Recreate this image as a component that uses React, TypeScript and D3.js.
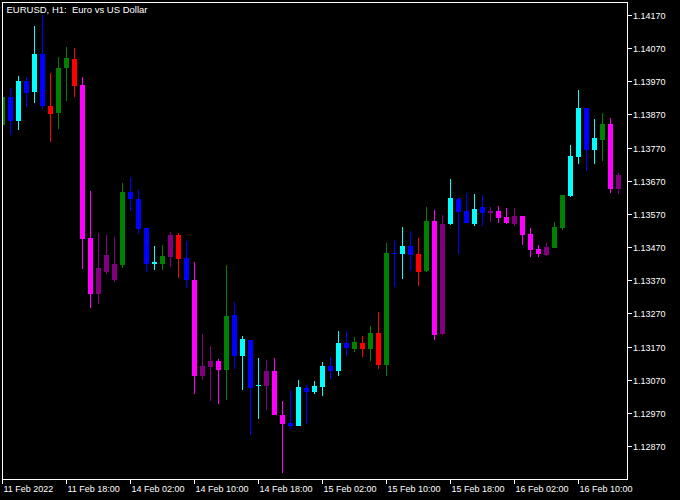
import React from "react";
import * as d3 from "d3";

const title = "EURUSD, H1:  Euro vs US Dollar";

const timeTickIndex = [0, 8, 16, 24, 32, 40, 48, 56, 64, 72];
const timeTickLabels = [
  "11 Feb 2022", "11 Feb 18:00", "14 Feb 02:00", "14 Feb 10:00", "14 Feb 18:00",
  "15 Feb 02:00", "15 Feb 10:00", "15 Feb 18:00", "16 Feb 02:00", "16 Feb 10:00",
];

const priceTicks = [
  1.1287, 1.1297, 1.1307, 1.1317, 1.1327, 1.1337, 1.1347,
  1.1357, 1.1367, 1.1377, 1.1387, 1.1397, 1.1407, 1.1417,
];

const opens = [
  1.1384, 1.13923, 1.13853, 1.13972, 1.1394, 1.14054, 1.13897, 1.13877, 1.14013, 1.14039,
  1.1396, 1.13499, 1.13331, 1.13396, 1.13372, 1.13417, 1.13638, 1.13616, 1.13529, 1.1342,
  1.1342, 1.13441, 1.13508, 1.13438, 1.13372, 1.13082, 1.1311, 1.13128, 1.13101, 1.13266,
  1.13144, 1.13191, 1.13054, 1.13053, 1.13097, 1.12965, 1.12941, 1.12932, 1.13046, 1.13034,
  1.13049, 1.13113, 1.13097, 1.13182, 1.13164, 1.13182, 1.13164, 1.13212, 1.13116, 1.13454,
  1.13451, 1.13475, 1.1345, 1.134, 1.1355, 1.1321, 1.1354, 1.13616, 1.1358, 1.13541,
  1.13592, 1.13574, 1.1358, 1.13562, 1.13541, 1.13565, 1.13511, 1.13466, 1.13447, 1.13469,
  1.13529, 1.13625, 1.13743, 1.13891, 1.13764, 1.13794, 1.13843, 1.13647,
];
const highs = [
  1.13927, 1.13951, 1.13988, 1.13984, 1.14138, 1.14171, 1.13997, 1.14045, 1.14075, 1.14072,
  1.13984, 1.13641, 1.13514, 1.13508, 1.13502, 1.13665, 1.13683, 1.13644, 1.13529, 1.13475,
  1.13478, 1.13517, 1.13514, 1.1349, 1.13426, 1.13209, 1.13173, 1.13134, 1.13417, 1.13306,
  1.13203, 1.13191, 1.13137, 1.13131, 1.13137, 1.13007, 1.1304, 1.1307, 1.13055, 1.13067,
  1.13125, 1.1314, 1.13218, 1.13218, 1.132, 1.13203, 1.13233, 1.13275, 1.13484, 1.13493,
  1.13532, 1.1352, 1.13499, 1.13592, 1.13583, 1.13568, 1.13677, 1.13622, 1.13635, 1.13632,
  1.13629, 1.13592, 1.13595, 1.13589, 1.13589, 1.13565, 1.13529, 1.13478, 1.13484, 1.13547,
  1.13629, 1.13779, 1.13945, 1.13891, 1.13858, 1.13876, 1.13861, 1.13695,
];
const lows = [
  1.13837, 1.13809, 1.13825, 1.13895, 1.13907, 1.13887, 1.13789, 1.13828, 1.13913, 1.13925,
  1.13406, 1.13288, 1.133, 1.13391, 1.13367, 1.13409, 1.1358, 1.13512, 1.13397, 1.13403,
  1.13403, 1.13412, 1.13379, 1.13349, 1.13028, 1.1307, 1.13007, 1.12998, 1.1301, 1.13104,
  1.1304, 1.12904, 1.12954, 1.12981, 1.12965, 1.12791, 1.12923, 1.12932, 1.12939, 1.13028,
  1.13022, 1.13073, 1.13082, 1.13143, 1.13155, 1.1314, 1.13128, 1.13104, 1.13082, 1.13352,
  1.13376, 1.134, 1.13355, 1.13397, 1.13192, 1.13207, 1.13539, 1.13451, 1.13544, 1.13535,
  1.13535, 1.13547, 1.13544, 1.13541, 1.13535, 1.13478, 1.13441, 1.13441, 1.13444, 1.13469,
  1.13523, 1.13622, 1.13722, 1.13701, 1.13722, 1.13731, 1.13635, 1.13632,
];
const closes = [
  1.13923, 1.13853, 1.13972, 1.13937, 1.14054, 1.13898, 1.13874, 1.14012, 1.14042, 1.13958,
  1.13497, 1.13331, 1.13408, 1.13447, 1.1342, 1.13638, 1.13616, 1.13526, 1.13421, 1.13426,
  1.13444, 1.13508, 1.13435, 1.13372, 1.13082, 1.13113, 1.13128, 1.13101, 1.13263, 1.13144,
  1.13194, 1.13047, 1.13055, 1.13097, 1.12965, 1.12939, 1.12932, 1.13049, 1.13034, 1.13052,
  1.13113, 1.13097, 1.13182, 1.13168, 1.13185, 1.13164, 1.13212, 1.13116, 1.13453, 1.13452,
  1.13475, 1.13447, 1.13397, 1.1355, 1.13207, 1.13541, 1.13619, 1.13578, 1.13544, 1.13586,
  1.13574, 1.1358, 1.13559, 1.13544, 1.13565, 1.13508, 1.13463, 1.1345, 1.13472, 1.13532,
  1.13629, 1.13746, 1.13891, 1.13764, 1.138, 1.13843, 1.13647, 1.13689,
];
const candleColors = [
  "green", "blue", "cyan", "blue", "cyan", "blue", "red", "green", "green", "red",
  "magenta", "magenta", "purple", "purple", "purple", "green", "blue", "blue", "blue", "cyan",
  "green", "purple", "red", "blue", "magenta", "purple", "purple", "magenta", "green", "blue",
  "cyan", "blue", "cyan", "purple", "magenta", "magenta", "blue", "cyan", "blue", "cyan",
  "cyan", "blue", "cyan", "blue", "green", "red", "green", "red", "green", "blue",
  "cyan", "blue", "red", "green", "magenta", "purple", "cyan", "blue", "blue", "cyan",
  "blue", "purple", "magenta", "magenta", "purple", "magenta", "magenta", "magenta", "purple", "green",
  "green", "cyan", "cyan", "blue", "cyan", "green", "magenta", "purple",
];

const palette: Record<string, string> = {
  cyan: "#00FFFF",
  blue: "#0000FF",
  green: "#008000",
  red: "#FF0000",
  magenta: "#FF00FF",
  purple: "#800080",
};

const W = 680;
const H = 500;
const plot = { left: 2, top: 2, right: 627, bottom: 479 };
const FONT = "'Liberation Sans', Arial, sans-serif";

export default function App() {
  const x = d3.scaleLinear().domain([0, 77]).range([2.5, 618.5]);
  const y = d3.scaleLinear().domain([1.1287, 1.1417]).range([446.5, 15.5]);

  const candles = opens.map((o, i) => ({
    o,
    h: highs[i],
    l: lows[i],
    c: closes[i],
    col: palette[candleColors[i]],
    i,
  }));

  return (
    <div style={{ position: "absolute", left: 0, top: 0 }}>
      <svg width={W} height={H} style={{ display: "block", background: "#000" }}>
        <rect x={0} y={0} width={W} height={H} fill="#000" />
        <defs>
          <clipPath id="plotClip">
            <rect x={plot.left} y={plot.top} width={plot.right - plot.left} height={plot.bottom - plot.top} />
          </clipPath>
        </defs>
        <g clipPath="url(#plotClip)">
          {candles.map((d) => {
            const cx = Math.round(x(d.i) - 0.5);
            const yTop = Math.round(y(Math.max(d.o, d.c)));
            const yBot = Math.round(y(Math.min(d.o, d.c)));
            const yH = Math.round(y(d.h));
            const yL = Math.round(y(d.l));
            return (
              <g key={d.i}>
                <rect x={cx} y={yH} width={1} height={Math.max(1, yL - yH)} fill={d.col} />
                <rect x={cx - 2} y={yTop} width={5} height={Math.max(1, yBot - yTop)} fill={d.col} />
              </g>
            );
          })}
        </g>
        <rect
          x={plot.left + 0.5}
          y={plot.top + 0.5}
          width={plot.right - plot.left}
          height={plot.bottom - plot.top}
          fill="none"
          stroke="#fff"
          strokeWidth={1}
        />
        <text
          x={6.5}
          y={12.5}
          fill="#fff"
          fontFamily={FONT}
          fontSize={9.5}
          style={{ whiteSpace: "pre" }}
        >
          {title}
        </text>
        {priceTicks.map((p) => {
          const py = Math.round(y(p) - 0.5) + 0.5;
          return (
            <g key={p}>
              <line x1={plot.right + 0.5} x2={plot.right + 5} y1={py} y2={py} stroke="#fff" />
              <text x={633} y={py + 3.3} fill="#fff" fontFamily={FONT} fontSize={9}>
                {d3.format(".5f")(p)}
              </text>
            </g>
          );
        })}
        {timeTickIndex.map((idx, j) => {
          const tx = Math.round(x(idx) - 0.5) + 0.5;
          return (
            <g key={idx}>
              <line x1={tx} x2={tx} y1={plot.bottom + 0.5} y2={plot.bottom + 5} stroke="#fff" />
              <text x={tx + 1} y={492} fill="#fff" fontFamily={FONT} fontSize={9}>
                {timeTickLabels[j]}
              </text>
            </g>
          );
        })}
      </svg>
    </div>
  );
}
